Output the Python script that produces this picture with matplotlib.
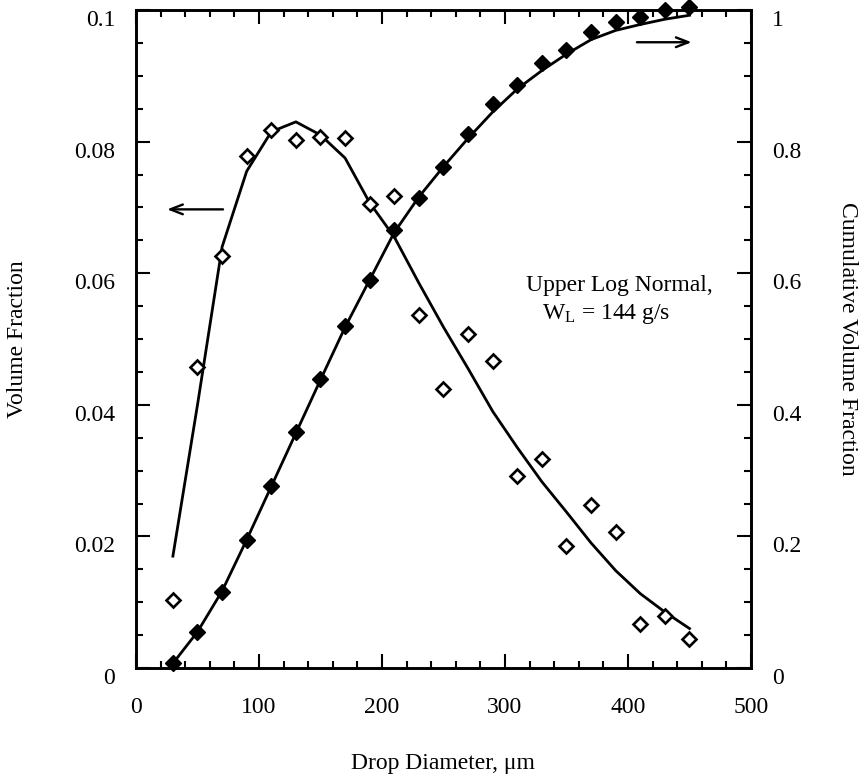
import matplotlib
matplotlib.use('Agg')
import matplotlib.pyplot as plt
import matplotlib.transforms as mtransforms

plt.rcParams['font.family'] = ['Liberation Serif', 'DejaVu Serif']
plt.rcParams['mathtext.fontset'] = 'custom'
plt.rcParams['mathtext.rm'] = 'Liberation Serif'
plt.rcParams['mathtext.it'] = 'Liberation Serif:italic'

# ---- data ----
diameters = [30, 50, 70, 90, 110, 130, 150, 170, 190, 210, 230,
             250, 270, 290, 310, 330, 350, 370, 390, 410, 430, 450]
vol_frac = [0.0103, 0.0458, 0.0626, 0.0778, 0.0818, 0.0803, 0.0807, 0.0805,
            0.0705, 0.0718, 0.0536, 0.0424, 0.0508, 0.0466, 0.0292, 0.0317,
            0.0186, 0.0247, 0.0206, 0.0067, 0.0079, 0.0044]
cum_frac = [0.008, 0.055, 0.116, 0.195, 0.277, 0.358, 0.439, 0.520, 0.590,
            0.666, 0.715, 0.761, 0.812, 0.857, 0.886, 0.919, 0.939, 0.966,
            0.982, 0.990, 1.000, 1.004]
fit_vol = [0.0170, 0.0400, 0.0640, 0.0755, 0.0815, 0.0830, 0.0810, 0.0775,
           0.0707, 0.0655, 0.0585, 0.0518, 0.0455, 0.0390, 0.0335, 0.0283,
           0.0237, 0.0190, 0.0148, 0.0113, 0.0085, 0.0060]
fit_cum = [0.007, 0.055, 0.117, 0.195, 0.276, 0.357, 0.438, 0.518, 0.590,
           0.662, 0.716, 0.762, 0.805, 0.845, 0.880, 0.908, 0.933, 0.955,
           0.969, 0.978, 0.986, 0.992]

x_ticks = [0, 100, 200, 300, 400, 500]
left_ticks = [0, 0.02, 0.04, 0.06, 0.08, 0.1]
left_labels = ['0', '0.02', '0.04', '0.06', '0.08', '0.1']
right_ticks = [0, 0.2, 0.4, 0.6, 0.8, 1.0]
right_labels = ['0', '0.2', '0.4', '0.6', '0.8', '1']

FS = 17

fig = plt.figure(figsize=(8.62, 7.78), dpi=100)
ax = fig.add_axes([136/862, 1 - 668/778, (751-136)/862, (668-10)/778])
ax2 = ax.twinx()

ax.set_xlim(0, 500)
ax.set_ylim(0, 0.1)
ax2.set_ylim(0, 1)

# curves and markers
ax.plot(diameters, fit_vol, color='black', lw=2.0, zorder=3)
ax.plot(diameters, vol_frac, linestyle='none', marker='D', ms=7,
        mfc='white', mec='black', mew=1.9, zorder=4, clip_on=False)
ax2.plot(diameters, fit_cum, color='black', lw=2.0, zorder=3)
ax2.plot(diameters, cum_frac, linestyle='none', marker='D', ms=8,
         mfc='black', mec='black', mew=1, zorder=4, clip_on=False)

# arrows
ax.annotate('', xy=(23, 0.0697), xytext=(73, 0.0697),
            arrowprops=dict(arrowstyle='->,head_length=0.9,head_width=0.35',
                            color='black', lw=1.7))
ax2.annotate('', xy=(454, 0.951), xytext=(405, 0.951),
             arrowprops=dict(arrowstyle='->,head_length=0.9,head_width=0.35',
                             color='black', lw=1.7))

# annotation text
ax.text(393, 0.0582, 'Upper Log Normal,', ha='center', va='center', fontsize=FS)
ax.text(382, 0.0538, r'W$_{\mathrm{L}}$ = 144 g/s', ha='center', va='center', fontsize=FS)

# ticks
ax.set_xticks(x_ticks)
ax.set_xticks(range(0, 501, 20), minor=True)
ax.set_yticks(left_ticks)
ax.set_yticklabels(left_labels)
ax.set_yticks([i * 0.005 for i in range(21)], minor=True)
ax2.set_yticks(right_ticks)
ax2.set_yticklabels(right_labels)
ax2.set_yticks([i * 0.05 for i in range(21)], minor=True)

ax.tick_params(which='both', direction='in', top=True, right=False,
               width=1.5, labelsize=FS)
ax.tick_params(which='major', length=10)
ax.tick_params(which='minor', length=5)
ax.tick_params(axis='y', pad=15)
ax.tick_params(axis='x', pad=21)
ax2.tick_params(which='both', direction='in', width=1.5, labelsize=FS, pad=15)
ax2.tick_params(which='major', length=10)
ax2.tick_params(which='minor', length=5)

for a in (ax, ax2):
    for s in a.spines.values():
        s.set_linewidth(1.9)

# shift y tick labels slightly down as in reference
off = mtransforms.ScaledTranslation(0, -8/100, fig.dpi_scale_trans)
for lab in ax.get_yticklabels() + ax2.get_yticklabels():
    lab.set_transform(lab.get_transform() + off)

fig.text(18/862, 1 - 339/778, 'Volume Fraction', rotation=90,
         ha='center', va='center', fontsize=FS)
fig.text(848/862, 1 - 339/778, 'Cumulative Volume Fraction', rotation=270,
         ha='center', va='center', fontsize=FS)
fig.text(443/862, 1 - 763/778, 'Drop Diameter, μm', ha='center', va='center',
         fontsize=FS)

fig.savefig('out.png', dpi=100)
